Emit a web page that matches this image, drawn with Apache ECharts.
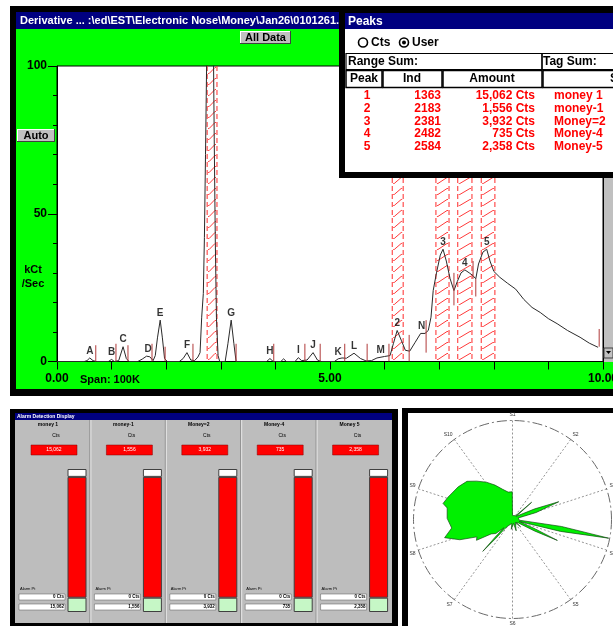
<!DOCTYPE html>
<html><head><meta charset="utf-8">
<script src="https://cdn.jsdelivr.net/npm/echarts@6/dist/echarts.min.js"></script>
<style>html,body{margin:0;padding:0;background:#fff;overflow:hidden}#c{width:613px;height:626px;}</style>
</head><body><div id="c"></div>
<script>
// ---------------- DATA ----------------
const traceX = [0,0.50,0.55,0.60,0.66,0.72,0.94,1.00,1.05,1.13,1.21,1.27,1.32,1.48,1.56,1.64,1.70,1.76,1.80,1.84,1.89,1.93,1.97,2.02,2.24,2.31,2.38,2.45,2.52,2.58,2.62,2.65,2.68,2.70,2.72,2.74,2.76,2.86,2.88,2.90,2.92,2.95,2.98,3.08,3.13,3.19,3.24,3.28,3.84,3.90,3.96,4.10,4.15,4.20,4.36,4.42,4.48,4.58,4.69,4.77,4.84,5.08,5.15,5.22,5.30,5.44,5.56,5.66,5.76,5.86,6.00,6.10,6.16,6.23,6.31,6.38,6.46,6.56,6.66,6.74,6.80,6.85,6.89,6.95,7.02,7.07,7.13,7.20,7.27,7.33,7.40,7.47,7.55,7.62,7.67,7.72,7.80,7.87,7.93,8.00,8.11,8.25,8.40,8.55,8.70,8.85,9.00,9.16,9.35,9.58,9.75,9.91];
const traceY = [0,0,0.3,1.2,0.3,0,0,0.7,0,0.3,5,1,0,0,0.8,1.8,1.6,0.3,2,8,14,8,1,0,0,1,3,0.5,0.3,1.5,3,15,23,42,70,100,115,115,75,40,15,2,0,0,6,14,6,0,0,1,0,0,0.9,0,0,1.3,0.3,0.5,3,0.5,0,0,0.9,1.2,1.1,2.8,1,0.2,0.3,1.2,1.7,2,6,10.5,7,3.8,3.5,6.5,9.5,9.5,10.5,15,24,30,36,38,34,28,24,27,30,31,30,29,28,33,37,38,34,30.5,28.5,26.5,24.5,21,18.3,16.6,14.5,12.8,10.5,8.2,6.2,4.8];

const peakLabelX = [0.60,1.00,1.21,1.67,1.89,2.38,3.19,3.90,4.42,4.69,5.15,5.44,5.93,6.23,6.68,7.07,7.47,7.87];
const peakLabelY = [1.2,0.7,5,1.8,14,3,14,1,1.3,3,0.9,2.8,1.5,10.5,9.5,38,31,38];
const peakLabelText = ['A','B','C','D','E','F','G','H','I','J','K','L','M','2','N','3','4','5'];

const bandStart = [2.75,6.14,6.94,7.34,7.77];
const bandEnd   = [2.93,6.34,7.18,7.60,8.02];

const markerX  = [0.71,1.08,1.30,1.74,1.98,2.49,3.28,3.97,4.54,4.82,5.27,5.68,6.08,6.45,6.76,7.27,7.62,7.67,9.93];
const markerLo = [0,0,0,0,0,0,0,0,0,0,0,0,0,0,3,19,28,22,5];
const markerHi = [5.5,6,5.5,6,5,6,6,6,6,6,6,6,6,9,14,30,34,28,11];

const xTickLabels = {0:'0.00',5:'5.00',10:'10.00'};
const yTickLabels = {0:'0',50:'50',100:'100'};

const peakNo     = ['1','2','3','4','5'];
const peakInd    = ['1363','2183','2381','2482','2584'];
const peakAmount = ['15,062 Cts','1,556 Cts','3,932 Cts','735 Cts','2,358 Cts'];
const peakTag    = ['money 1','money-1','Money=2','Money-4','Money-5'];

const alarmNames  = ['money 1','money-1','Money=2','Money-4','Money 5'];
const alarmValues = ['15,062','1,556','3,932','735','2,358'];
const alarmPoint  = ['0 Cts','0 Cts','0 Cts','0 Cts','0 Cts'];
const barGreen = [10,10,10,10,10];
const barRed   = [84.5,84.5,84.5,84.5,84.5];
const barWhite = [5.5,5.5,5.5,5.5,5.5];

const polarAngle  = [0,20,40,46.5,48,49.5,60,63,64.5,69,73.5,75,85,96,98.1,101,103.9,106,110,112.5,115,117.5,120,130,132,135,160,162,165,185,187,190,200,215,220,221.5,223,224.5,226,230,236,240,244,249,255,262,271,280,283,289,301,310,317,325,333,342,351,359.5,360];
const polarRadius = [0.04,0.05,0.05,0.05,0.26,0.05,0.06,0.06,0.25,0.50,0.25,0.06,0.06,0.07,0.5,0.99,0.5,0.07,0.07,0.25,0.50,0.25,0.07,0.05,0.11,0.04,0.04,0.12,0.04,0.04,0.10,0.04,0.06,0.08,0.12,0.25,0.44,0.25,0.12,0.22,0.26,0.42,0.40,0.57,0.71,0.62,0.66,0.67,0.72,0.69,0.64,0.60,0.53,0.46,0.39,0.32,0.28,0.28,0.04];
const polarLabels = ['S1','S2','S3','S4','S5','S6','S7','S8','S9','S10'];

// ---------------- CHROME ----------------
const FONT = '"Liberation Sans", Arial, sans-serif';
const G = [];
function rect(x,y,w,h,fill,z,stroke,lw){ G.push({type:'rect',silent:true,z:z,shape:{x:x,y:y,width:w,height:h},style:{fill:fill,stroke:stroke||null,lineWidth:lw||0}}); }
function txt(x,y,t,size,color,align,z,weight){ G.push({type:'text',silent:true,z:z,x:x,y:y,style:{text:t,fill:color,font:(weight||'bold')+' '+size+'px '+FONT,textAlign:align||'left',textVerticalAlign:'middle',align:align||'left',verticalAlign:'middle'}}); }
function ln(x1,y1,x2,y2,c,w,z){ G.push({type:'line',silent:true,z:z,shape:{x1:x1,y1:y1,x2:x2,y2:y2},style:{stroke:c,lineWidth:w}}); }
function button(x,y,w,h,label,z){
  rect(x,y,w,h,'#c0c0c0',z);
  ln(x,y+0.5,x+w,y+0.5,'#ffffff',1,z); ln(x+0.5,y,x+0.5,y+h,'#ffffff',1,z);
  ln(x,y+h-0.5,x+w,y+h-0.5,'#404040',1,z); ln(x+w-0.5,y,x+w-0.5,y+h,'#404040',1,z);
  txt(x+w/2,y+h/2+0.5,label,11,'#000','center',z);
}
// main window
rect(10,6,603,390,'#000',-100);
rect(16,12,597,17,'#000080',-99);
txt(20,20.5,'Derivative ... :\\ed\\EST\\Electronic Nose\\Money\\Jan26\\0101261.dat',11,'#ffffff','left',-98);
rect(16,29,597,360,'#00ff00',-99);
button(240,31,51,13,'All Data',-98);
button(17,129,38,13,'Auto',-98);
txt(33,270,'kCt',11,'#000','center',-98);
txt(33,284,'/Sec',11,'#000','center',-98);
txt(80,379.5,'Span: 100K',11,'#000','left',-98);
// scrollbar
rect(604,29,9,333,'#c0c0c0',5);
ln(603.5,29,603.5,362,'#000',1,5);
rect(604,348,9,10,'#c0c0c0',5,'#404040',1);
G.push({type:'polygon',silent:true,z:6,shape:{points:[[606,351],[611,351],[608.5,354]]},style:{fill:'#000'}});

// peaks window
const PZ = 100;
rect(339,9,274,169,'#000',PZ);
rect(345,13,268,16,'#000080',PZ);
txt(348,21.5,'Peaks',12,'#ffffff','left',PZ);
rect(345,29,268,143,'#ffffff',PZ);
G.push({type:'circle',silent:true,z:PZ,shape:{cx:363,cy:42.5,r:4.5},style:{fill:'#fff',stroke:'#000',lineWidth:1.6}});
txt(371,42.5,'Cts',12,'#000','left',PZ);
G.push({type:'circle',silent:true,z:PZ,shape:{cx:404,cy:42.5,r:4.5},style:{fill:'#fff',stroke:'#000',lineWidth:1.6}});
G.push({type:'circle',silent:true,z:PZ,shape:{cx:404,cy:42.5,r:2},style:{fill:'#000'}});
txt(412,42.5,'User',12,'#000','left',PZ);
rect(346,53.5,196,16,null,PZ,'#000',1.2);
rect(542,53.5,80,16,null,PZ,'#000',1.2);
txt(348,62,'Range Sum:',12,'#000','left',PZ);
txt(543,62,'Tag Sum:',12,'#000','left',PZ);
rect(346,70.5,36,17,null,PZ,'#000',1.5);
rect(383,70.5,59,17,null,PZ,'#000',1.5);
rect(443,70.5,99,17,null,PZ,'#000',1.5);
rect(543,70.5,80,17,null,PZ,'#000',1.5);
txt(364,79,'Peak',12,'#000','center',PZ);
txt(412,79,'Ind',12,'#000','center',PZ);
txt(492,79,'Amount',12,'#000','center',PZ);
txt(610,79,'Sym',12,'#000','left',PZ);
for (let i=0;i<peakNo.length;i++){
  const y = 96 + i*12.6;
  txt(367,y,peakNo[i],12,'#ff0000','center',PZ);
  txt(441,y,peakInd[i],12,'#ff0000','right',PZ);
  txt(535,y,peakAmount[i],12,'#ff0000','right',PZ);
  txt(554,y,peakTag[i],12,'#ff0000','left',PZ);
}

// alarm detection display
rect(10,409,388,217,'#000',-100);
rect(15,413,377,7,'#000080',-99);
txt(17,416.5,'Alarm Detection Display',5,'#ffffff','left',-98);
rect(15,420,377,203,'#bdbdbd',-99);
const colW = 75.4;
for (let i=0;i<alarmNames.length;i++){
  const x0 = 15 + i*colW;
  if (i>0){ ln(x0-0.5,420,x0-0.5,623,'#8a8a8a',1,-98); ln(x0+0.5,420,x0+0.5,623,'#e8e8e8',1,-98); }
  txt(x0+33,424.5,alarmNames[i],5,'#000','center',-98);
  txt(x0+41,436,'Cts',5,'#000','center',-98,'normal');
  rect(x0+16,445,46,10,'#ff0000',-98,'#800000',0.5);
  txt(x0+39,450,alarmValues[i],5,'#ffffff','center',-97,'normal');
  txt(x0+5,589,'Alarm Pt',4,'#000','left',-98,'normal');
  rect(x0+4,594,46,6,'#ffffff',-98,'#555',0.5);
  txt(x0+49,597,alarmPoint[i],4.5,'#000','right',-97);
  rect(x0+4,604,46,6,'#ffffff',-98,'#555',0.5);
  txt(x0+49,607,alarmValues[i],4.5,'#000','right',-97);
}

// polar panel
rect(402,408,211,218,'#000',-100);
rect(408,413,205,213,'#ffffff',-99);

// ---------------- CHART ----------------
const chart = echarts.init(document.getElementById('c'), null, {renderer:'canvas', width:613, height:626});
const trace = traceX.map((x,i)=>[x,traceY[i]]);
const bands = bandStart.map((s,i)=>[s,bandEnd[i]]);
const markers = markerX.map((x,i)=>[x,markerLo[i],markerHi[i]]);
const labels = peakLabelX.map((x,i)=>[x,peakLabelY[i],peakLabelText[i]]);
const polarData = polarAngle.map((a,i)=>[polarRadius[i],a]);

chart.setOption({
  animation:false,
  backgroundColor:'#ffffff',
  graphic:{elements:G},
  grid:[
    {left:57,top:66,width:546,height:295.5,show:true,backgroundColor:'#ffffff',borderColor:'#000',borderWidth:1,containLabel:false,outerBoundsMode:'none'},
    {left:39.3,top:469,width:377,height:143,show:false,containLabel:false,outerBoundsMode:'none'}
  ],
  xAxis:[
    {gridIndex:0,type:'value',min:0,max:10,interval:1,
     axisLine:{show:true,lineStyle:{color:'#000',width:1}},
     axisTick:{show:true,length:8,lineStyle:{color:'#000'}},
     axisLabel:{show:true,margin:11,color:'#000',fontSize:12,fontWeight:'bold',fontFamily:'Liberation Sans',showMinLabel:true,showMaxLabel:true,hideOverlap:false,
       formatter:v=>xTickLabels[v]!==undefined?xTickLabels[v]:''},
     splitLine:{show:false}},
    {gridIndex:1,type:'category',data:alarmNames,show:false}
  ],
  yAxis:[
    {gridIndex:0,type:'value',min:0,max:100,interval:50,
     axisLine:{show:true,lineStyle:{color:'#000',width:1}},
     axisTick:{show:true,length:9,lineStyle:{color:'#000'}},
     minorTick:{show:true,splitNumber:5,length:4,lineStyle:{color:'#000'}},
     axisLabel:{margin:10,color:'#000',fontSize:12,fontWeight:'bold',fontFamily:'Liberation Sans',formatter:v=>yTickLabels[v]!==undefined?yTickLabels[v]:''},
     splitLine:{show:false}},
    {gridIndex:1,type:'value',min:0,max:100,show:false}
  ],
  polar:{center:[512.5,519.5],radius:99},
  angleAxis:{type:'value',min:0,max:360,interval:36,startAngle:90,clockwise:true,
    axisLine:{show:true,lineStyle:{color:'#6a6a6a',width:1,type:[10,3,2,3]}},
    axisTick:{show:false},
    splitLine:{show:true,lineStyle:{color:'#7a7a7a',width:0.8,type:[2,2]}},
    axisLabel:{show:true,margin:3,fontSize:5,color:'#333',formatter:v=>polarLabels[Math.round(v/36)%10]}},
  radiusAxis:{type:'value',min:0,max:1,show:false},
  series:[
    {type:'custom',xAxisIndex:0,yAxisIndex:0,z:1,clip:true,data:bands,silent:true,
     renderItem:function(params,api){
       const p0 = api.coord([api.value(0),100]);
       const p1 = api.coord([api.value(1),0]);
       const x0=p0[0], x1=p1[0], yT=p0[1], yB=p1[1];
       const ch=[];
       ch.push({type:'line',shape:{x1:x0,y1:yT,x2:x0,y2:yB},style:{stroke:'#ff2a2a',lineWidth:1,lineDash:[5,3]}});
       ch.push({type:'line',shape:{x1:x1,y1:yT,x2:x1,y2:yB},style:{stroke:'#ff2a2a',lineWidth:1,lineDash:[5,3]}});
       for (let y=yB-2; y>yT+4; y-=11){
         ch.push({type:'polyline',shape:{points:[[x0+1,y],[x0+2,y],[x1-2,y-6],[x1-1,y-6]]},style:{stroke:'#ff3a3a',lineWidth:1,fill:null}});
       }
       return {type:'group',children:ch};
     }},
    {type:'line',xAxisIndex:0,yAxisIndex:0,z:3,data:trace,showSymbol:false,clip:true,silent:true,
     lineStyle:{color:'#2a2a2a',width:1}},
    {type:'custom',xAxisIndex:0,yAxisIndex:0,z:4,clip:true,data:markers,silent:true,
     renderItem:function(params,api){
       const a = api.coord([api.value(0),api.value(1)]);
       const b = api.coord([api.value(0),api.value(2)]);
       return {type:'line',shape:{x1:a[0],y1:a[1],x2:b[0],y2:b[1]},style:{stroke:'#b03a3a',lineWidth:1}};
     }},
    {type:'scatter',xAxisIndex:0,yAxisIndex:0,z:5,data:labels,symbolSize:0,silent:true,
     label:{show:true,position:'top',distance:2,color:'#000',fontSize:10,fontWeight:'bold',fontFamily:'Liberation Sans',formatter:p=>p.data[2]}},
    {type:'bar',xAxisIndex:1,yAxisIndex:1,stack:'lvl',barWidth:19,data:barGreen,silent:true,
     itemStyle:{color:'#c6f7c6',borderColor:'#404040',borderWidth:1}},
    {type:'bar',xAxisIndex:1,yAxisIndex:1,stack:'lvl',barWidth:19,data:barRed,silent:true,
     itemStyle:{color:'#ff0000',borderColor:'#404040',borderWidth:1}},
    {type:'bar',xAxisIndex:1,yAxisIndex:1,stack:'lvl',barWidth:19,data:barWhite,silent:true,
     itemStyle:{color:'#ffffff',borderColor:'#404040',borderWidth:1}},
    {type:'line',coordinateSystem:'polar',data:polarData,showSymbol:false,silent:true,z:3,
     lineStyle:{color:'#144a14',width:0.7},areaStyle:{color:'#00f000',opacity:1}}
  ]
});
</script></body></html>
